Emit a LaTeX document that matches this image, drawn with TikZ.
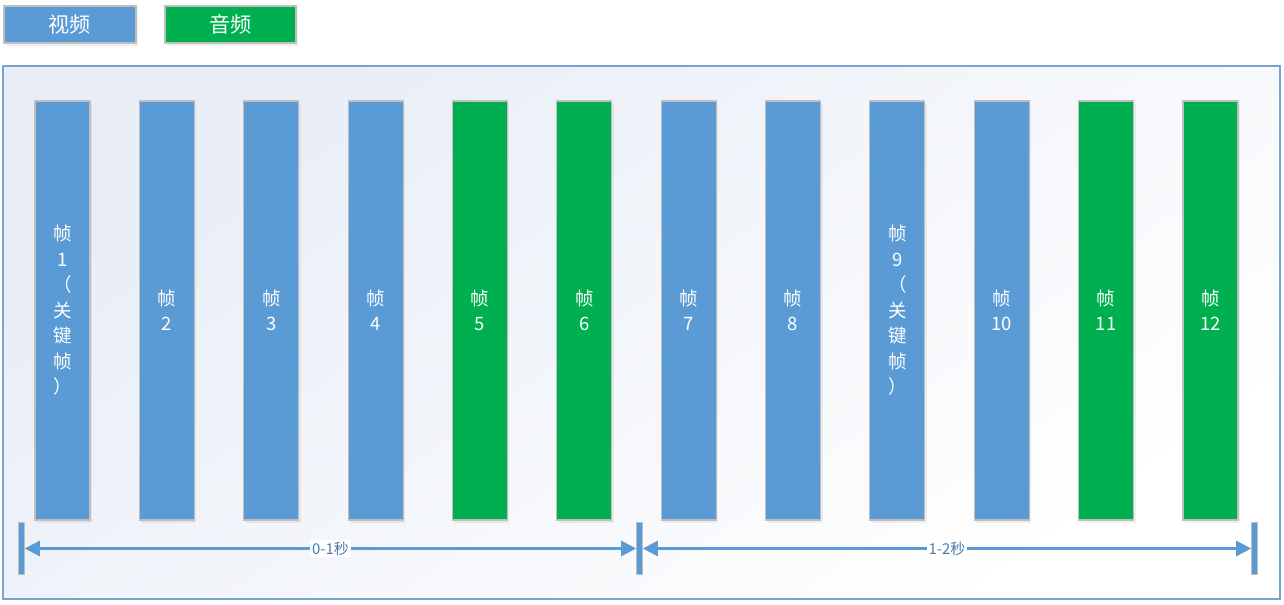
\documentclass[tikz,border=0pt]{standalone}
\usepackage{fontspec}
\setmainfont{Noto Sans CJK SC}
\usepackage{xcolor}
\usetikzlibrary{arrows.meta,positioning,shadows}

\definecolor{vidblue}{HTML}{5B9BD5}
\definecolor{audgreen}{HTML}{00B050}
\definecolor{frameline}{HTML}{7AA3D1}
\definecolor{boxgray}{HTML}{BFBFBF}
\definecolor{canvastint}{HTML}{E8EDF6}

\begin{document}
\begin{tikzpicture}[
    frame/.style={draw=boxgray, line width=0.6pt, minimum width=1.1cm, minimum height=8.38cm,
        text=white, align=center, font={\fontsize{10.5}{14.5}\selectfont},
        drop shadow={opacity=0.12, shadow xshift=0.04cm, shadow yshift=-0.06cm}},
    legend/.style={draw=boxgray, line width=0.6pt, minimum height=0.74cm,
        text=white, font={\fontsize{12}{14}\selectfont},
        drop shadow={opacity=0.12, shadow xshift=0.04cm, shadow yshift=-0.06cm}},
    tick/.style={fill=vidblue, draw=boxgray, line width=0.3pt, minimum width=0.12cm,
        minimum height=1.04cm, inner sep=0pt},
    span/.style={vidblue, line width=1.4pt, {Triangle[length=0.3cm, width=0.3cm]}-{Triangle[length=0.3cm, width=0.3cm]}},
    spanlabel/.style={fill=white, inner sep=1pt, text=vidblue!80!black, font={\fontsize{8.5}{10}\selectfont}}
]
    % Canvas
    \useasboundingbox (0,0) rectangle (25.68,-12.1);

    % Legend
    \node[legend, fill=vidblue, minimum width=2.64cm] (vid) at (1.40,-0.49) {视频};
    \node[legend, fill=audgreen, minimum width=2.62cm] (aud) at (4.61,-0.49) {音频};

    % Container
    \shade[top color=canvastint, bottom color=white, shading angle=35] (0.06,-1.32) rectangle (25.6,-11.98);
    \draw[frameline, line width=0.9pt] (0.06,-1.32) rectangle (25.6,-11.98);

    % Frames: index / colour
    \foreach \i/\col in {2/vidblue, 3/vidblue, 4/vidblue, 5/audgreen, 6/audgreen,
        7/vidblue, 8/vidblue, 10/vidblue, 11/audgreen, 12/audgreen} {
        \pgfmathsetmacro{\xx}{1.25+(\i-1)*2.0873}
        \node[frame, fill=\col] (f\i) at (\xx,-6.21) {帧\\\i};
    }

    % Key frames
    \foreach \i in {1,9} {
        \pgfmathsetmacro{\xx}{1.25+(\i-1)*2.0873}
        \node[frame, fill=vidblue] (f\i) at (\xx,-6.21) {帧\\\i\\（\\关\\键\\帧\\）};
    }

    % Second markers
    \node[tick] (m0) at (0.43,-10.97) {};
    \node[tick] (m1) at (12.79,-10.97) {};
    \node[tick] (m2) at (25.09,-10.97) {};

    % Spans
    \draw[span] (m0) -- (m1) node[midway, spanlabel] (s1) {0-1秒};
    \draw[span] (m1) -- (m2) node[midway, spanlabel] (s2) {1-2秒};
\end{tikzpicture}
\end{document}
